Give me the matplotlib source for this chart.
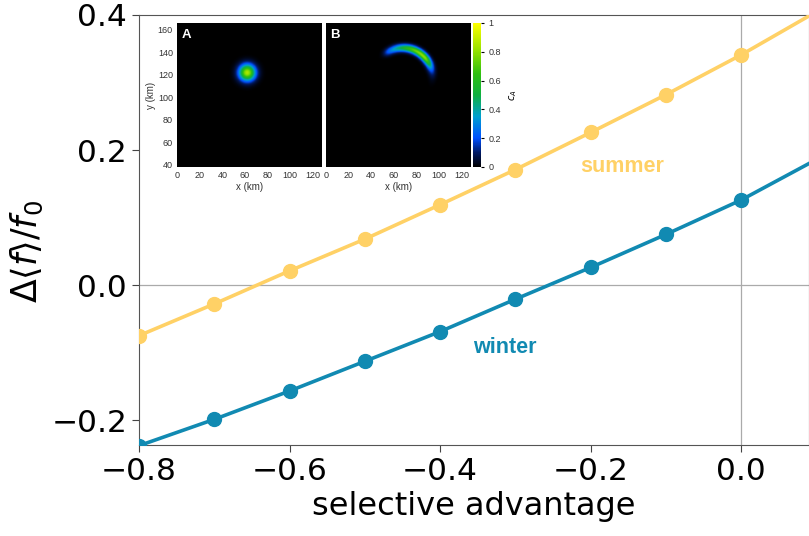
import numpy as np
import matplotlib
matplotlib.use('Agg')
import matplotlib.pyplot as plt
from matplotlib.colors import LinearSegmentedColormap

# main curves
sel_adv = [-0.8, -0.7, -0.6, -0.5, -0.4, -0.3, -0.2, -0.1, 0.0, 0.1]
summer = [-0.075, -0.028, 0.021, 0.068, 0.119, 0.171, 0.226, 0.282, 0.341, 0.405]
winter = [-0.238, -0.199, -0.157, -0.113, -0.069, -0.021, 0.026, 0.075, 0.126, 0.186]

x_ticks = [-0.8, -0.6, -0.4, -0.2, 0.0]
y_ticks = [-0.2, 0.0, 0.2, 0.4]

# inset blobs (km)
blob_a = dict(cx=62, cy=122, sigma=5.0, peak=0.85)
arc_b = dict(cx=68, cy=118, radius=26, width=2.3, ang_peak=45,
             sig_left=50, sig_right=20, cut=128, peak=0.8)
cbar_ticks = [0, 0.2, 0.4, 0.6, 0.8, 1]
cbar_labels = ['0', '0.2', '0.4', '0.6', '0.8', '1']

c_summer = '#FFD166'
c_winter = '#118AB2'

fig = plt.figure(figsize=(8.09, 5.36), dpi=100)
ax = fig.add_axes([139/809, 1 - 445/536, 1 - 139/809, (445 - 15)/536])

ax.axhline(0, color='#aaaaaa', lw=0.9, zorder=1)
ax.axvline(0, color='#aaaaaa', lw=0.9, zorder=1)
ax.plot(sel_adv, summer, '-o', color=c_summer, lw=2.6, ms=10, zorder=3)
ax.plot(sel_adv, winter, '-o', color=c_winter, lw=2.6, ms=10, zorder=3)

ax.text(-0.158, 0.176, 'summer', color=c_summer, fontsize=15.5, fontweight='bold',
        family='Liberation Sans', ha='center', va='center')
ax.text(-0.314, -0.093, 'winter', color=c_winter, fontsize=15.5, fontweight='bold',
        family='Liberation Sans', ha='center', va='center')

ax.set_xlim(-0.8, 0.09)
ax.set_ylim(-0.237, 0.4)
ax.set_xticks(x_ticks)
ax.set_yticks(y_ticks)
ax.tick_params(labelsize=22.5, length=5, color='#444444')
for s in ax.spines.values():
    s.set_color('#555555')
ax.set_xlabel('selective advantage', fontsize=23)
ax.set_ylabel(r'$\Delta\langle f\rangle/f_0$', fontsize=25)
ax.yaxis.set_label_coords(-0.14, 0.45)

# inset
cmap = LinearSegmentedColormap.from_list('ca', [
    (0.0, '#000000'), (0.1, '#001a66'), (0.2, '#0050ff'), (0.35, '#00a0d0'),
    (0.5, '#10b040'), (0.65, '#30c010'), (0.8, '#90e000'), (1.0, '#ffff00')])

xs = np.linspace(0, 128, 256)
ys = np.linspace(38, 166, 256)
X, Y = np.meshgrid(xs, ys)
img_a = blob_a['peak'] * np.exp(-((X - blob_a['cx'])**2 + (Y - blob_a['cy'])**2) / (2 * blob_a['sigma']**2))
R = np.hypot(X - arc_b['cx'], Y - arc_b['cy'])
ang = np.degrees(np.arctan2(Y - arc_b['cy'], X - arc_b['cx']))
sig = np.where(ang > arc_b['ang_peak'], arc_b['sig_left'], arc_b['sig_right'])
img_b = arc_b['peak'] * np.exp(-(R - arc_b['radius'])**2 / (2 * arc_b['width']**2)) \
    * np.exp(-(ang - arc_b['ang_peak'])**2 / (2 * sig**2)) \
    / (1 + np.exp((ang - arc_b['cut']) / 4))

ifont = 'Liberation Sans'
for i, (img, lab) in enumerate([(img_a, 'A'), (img_b, 'B')]):
    left = [177, 326][i]
    pa = fig.add_axes([left/809, 1 - 167/536, 145/809, 144/536])
    im = pa.imshow(img, cmap=cmap, vmin=0, vmax=1, origin='lower',
                   extent=[0, 128, 38, 166], aspect='auto', interpolation='bilinear')
    pa.set_xticks([0, 20, 40, 60, 80, 100, 120])
    pa.tick_params(labelsize=6.5, length=0, pad=3, labelcolor='#333333')
    for t in pa.get_xticklabels() + pa.get_yticklabels():
        t.set_family(ifont)
    pa.set_xlabel('x (km)', fontsize=7, labelpad=1, color='#333333', family=ifont)
    if i == 0:
        pa.set_yticks([40, 60, 80, 100, 120, 140, 160])
        for t in pa.get_yticklabels():
            t.set_family(ifont)
        pa.set_ylabel('y (km)', fontsize=7, labelpad=1, color='#333333', family=ifont)
    else:
        pa.set_yticks([])
    for s in pa.spines.values():
        s.set_visible(False)
    pa.text(4, 161, lab, color='white', fontsize=9.5, fontweight='bold', va='top', family=ifont)

cax = fig.add_axes([473/809, 1 - 167/536, 8/809, 144/536])
cb = fig.colorbar(im, cax=cax, ticks=cbar_ticks)
cb.ax.set_yticklabels(cbar_labels)
cb.ax.tick_params(labelsize=6.5, length=2, labelcolor='#333333')
for t in cb.ax.get_yticklabels():
    t.set_family(ifont)
cb.outline.set_visible(False)
cb.set_label(r'$c_A$', fontsize=7, labelpad=4)

fig.savefig('out.png', dpi=100)
